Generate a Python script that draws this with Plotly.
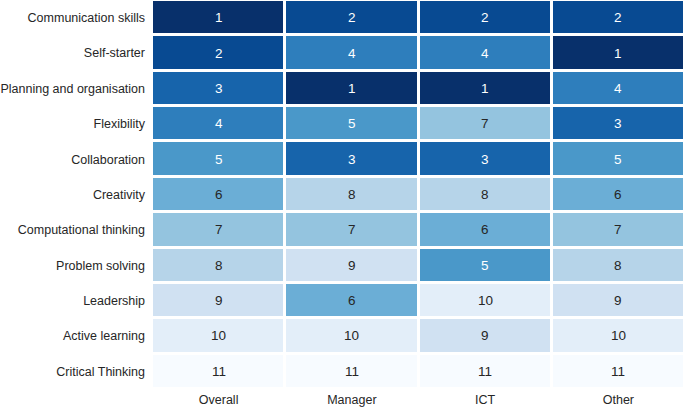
import plotly.graph_objects as go

skills = ["Communication skills", "Self-starter", "Planning and organisation", "Flexibility",
          "Collaboration", "Creativity", "Computational thinking", "Problem solving",
          "Leadership", "Active learning", "Critical Thinking"]
groups = ["Overall", "Manager", "ICT", "Other"]
overall = [1, 2, 3, 4, 5, 6, 7, 8, 9, 10, 11]
manager = [2, 4, 1, 5, 3, 8, 7, 9, 6, 10, 11]
ict = [2, 4, 1, 7, 3, 8, 6, 5, 10, 9, 11]
other = [2, 1, 4, 3, 5, 6, 7, 8, 9, 10, 11]

cols = [overall, manager, ict, other]
z = [[cols[j][i] for j in range(len(groups))] for i in range(len(skills))]

fig = go.Figure(go.Heatmap(
    z=z, x=groups, y=skills, colorscale="Blues_r", zmin=1, zmax=11,
    showscale=False, xgap=3, ygap=3, hoverinfo="skip"))

for i, s in enumerate(skills):
    for j, g in enumerate(groups):
        v = z[i][j]
        fig.add_annotation(x=g, y=s, text=str(v), showarrow=False,
                           font=dict(family="Liberation Sans, Arial", size=13.5,
                                     color="white" if v <= 5 else "#262626"))

fig.update_layout(
    width=685, height=408, margin=dict(l=152, r=0, t=0, b=19),
    plot_bgcolor="white", paper_bgcolor="white",
    font=dict(family="Liberation Sans, Arial", size=12.5, color="#262626"),
)
fig.update_xaxes(showgrid=False, zeroline=False, ticks="", tickfont=dict(size=12.5),
                 ticklabelstandoff=1)
fig.update_yaxes(autorange="reversed", showgrid=False, zeroline=False, ticks="",
                 tickfont=dict(size=12.5), ticklabelstandoff=6)
fig.write_html("out.html", config={"displayModeBar": False})

with open("out.html", "r", encoding="utf-8") as f:
    html = f.read()
html = html.replace("<body>", '<body style="margin:0;padding:0;overflow:hidden">', 1)
with open("out.html", "w", encoding="utf-8") as f:
    f.write(html)
